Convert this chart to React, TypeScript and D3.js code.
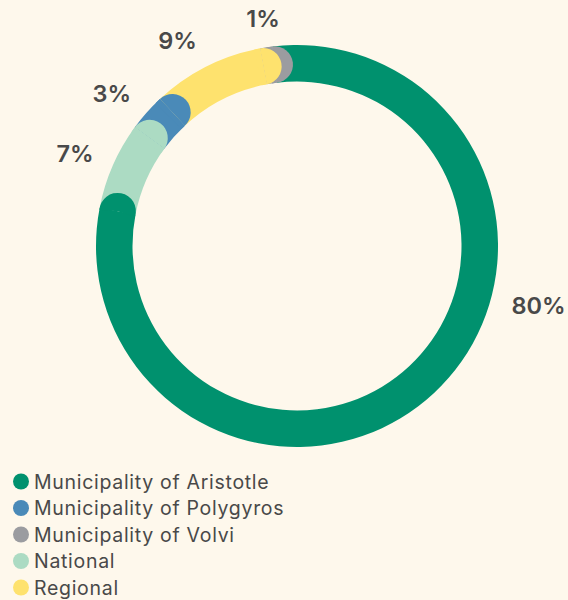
import React from 'react';
import * as d3 from 'd3';

// Data (clockwise order on the ring)
const categories = ['Municipality of Aristotle', 'National', 'Municipality of Polygyros', 'Regional', 'Municipality of Volvi'];
const values = [80, 7, 3, 9, 1];
const colors = ['#00916e', '#acdbc3', '#4a8ab8', '#fee26e', '#9b9ca0'];
const legendOrder = ['Municipality of Aristotle', 'Municipality of Polygyros', 'Municipality of Volvi', 'National', 'Regional'];

const W = 568;
const H = 600;
const BG = '#fef8ec';
const TEXT = '#494949';
const FONT = 'Inter, "Open Sans", sans-serif';

export default function App() {
  const cx = 297;
  const cy = 246;
  const outerR = 201;
  const innerR = 164.5;
  const midR = (outerR + innerR) / 2;
  const capR = (outerR - innerR) / 2;
  const startA = (-7 * Math.PI) / 180;

  const pie = d3
    .pie<number>()
    .sort(null)
    .startAngle(startA)
    .endAngle(startA + 2 * Math.PI);
  const arcs = pie(values);

  const bodyArc = d3.arc<d3.PieArcDatum<number>>().innerRadius(innerR).outerRadius(outerR);
  const capGen = d3.arc();

  const colorScale = d3.scaleOrdinal<string, string>().domain(categories).range(colors);

  // rounded end cap (half disk) at the clockwise end of a slice
  const capPath = (e: number, back: number) => {
    const px = midR * Math.sin(e);
    const py = -midR * Math.cos(e);
    const d = capGen({ innerRadius: 0, outerRadius: capR, startAngle: e - back, endAngle: e + Math.PI + back } as any) || '';
    return { d, px, py };
  };

  const maxIdx = d3.maxIndex(values);
  const bigLabelAngle = (105 * Math.PI) / 180;
  const labelR = 222;

  const legendY = d3.scalePoint<string>().domain(legendOrder).range([481.5, 587.5]);

  const first = arcs[0];
  const firstCap = capPath(first.endAngle, 0.12);
  const rest = arcs.slice(1).map((a, k) => ({ a, i: k + 1 })).reverse();

  return (
    <svg
      width={W}
      height={H}
      style={{ position: 'absolute', left: 0, top: 0, display: 'block' }}
      fontFamily={FONT}
    >
      <rect x={0} y={0} width={W} height={H} fill={BG} />
      <g transform={`translate(${cx},${cy})`}>
        <path d={bodyArc(first) || ''} fill={colorScale(categories[0])} />
        {rest.map(({ a, i }) => {
          const cap = capPath(a.endAngle, 0);
          return (
            <g key={`s${i}`} fill={colorScale(categories[i])}>
              <path d={bodyArc(a) || ''} />
              <path d={cap.d} transform={`translate(${cap.px},${cap.py})`} />
              <path d={bodyArc({ ...a, startAngle: a.endAngle - 0.03 }) || ''} />
            </g>
          );
        })}
        <path d={firstCap.d} transform={`translate(${firstCap.px},${firstCap.py})`} fill={colorScale(categories[0])} />
        {arcs.map((a, i) => {
          const ang = i === maxIdx ? bigLabelAngle : (a.startAngle + a.endAngle) / 2;
          const s = Math.sin(ang);
          const c = Math.cos(ang);
          const x = labelR * s;
          const y = -labelR * c - 8 * c;
          const anchor = s > 0.35 ? 'start' : s < -0.35 ? 'end' : 'middle';
          return (
            <text
              key={`l${i}`}
              x={x}
              y={y}
              textAnchor={anchor}
              dominantBaseline="central"
              fontSize={23.5}
              fontWeight={600}
              fill={TEXT}
            >
              {`${values[i]}%`}
            </text>
          );
        })}
      </g>
      <g>
        {legendOrder.map((name) => (
          <g key={name} transform={`translate(0,${legendY(name)})`}>
            <circle cx={21} cy={0} r={8} fill={colorScale(name)} />
            <text x={34} y={0} dominantBaseline="central" fontSize={19.5} letterSpacing={0.7} fill={TEXT}>
              {name}
            </text>
          </g>
        ))}
      </g>
    </svg>
  );
}
